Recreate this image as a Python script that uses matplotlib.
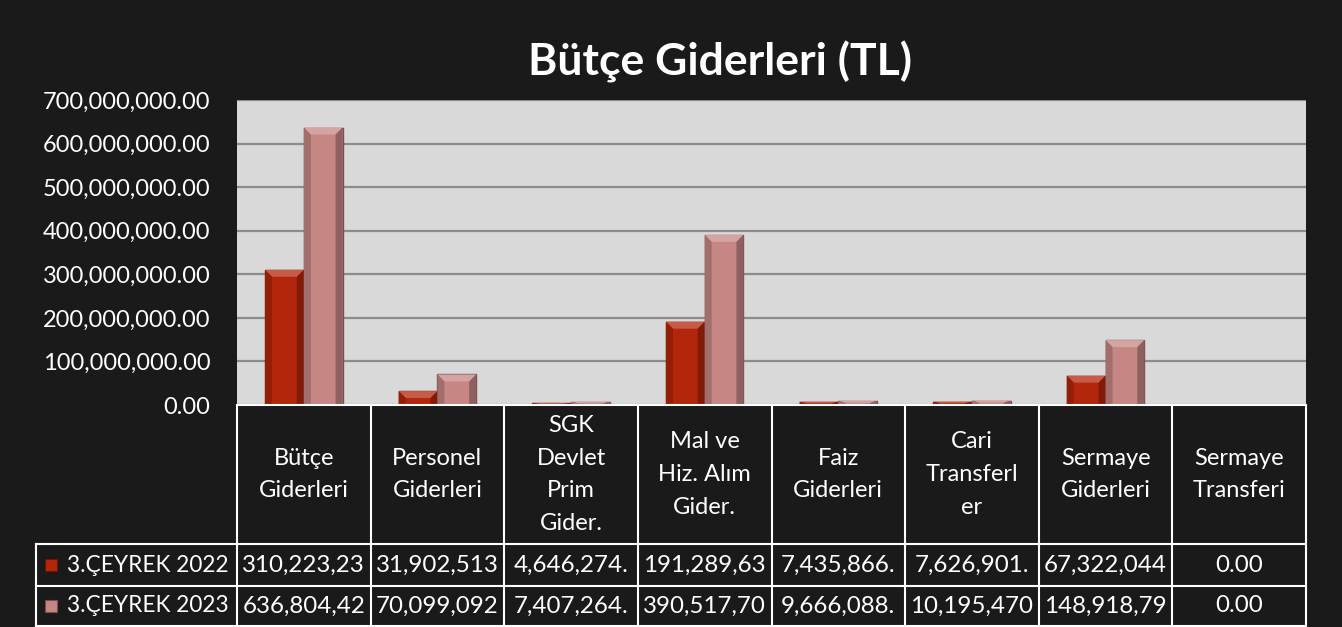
import numpy as np
import matplotlib
matplotlib.use("Agg")
import matplotlib.pyplot as plt
import matplotlib.transforms as mtransforms
from matplotlib.patches import Rectangle, Polygon
from matplotlib.colors import to_rgb
from matplotlib.ticker import FuncFormatter

plt.rcParams['font.family'] = ['Lato', 'DejaVu Sans']

# data
categories = ["Bütçe\nGiderleri", "Personel\nGiderleri", "SGK\nDevlet\nPrim\nGider.",
              "Mal ve\nHiz. Alım\nGider.", "Faiz\nGiderleri", "Cari\nTransferl\ner",
              "Sermaye\nGiderleri", "Sermaye\nTransferi"]
series_names = ["3.ÇEYREK 2022", "3.ÇEYREK 2023"]
q3_2022 = [310223230, 31902513, 4646274, 191289630, 7435866, 7626901, 67322044, 0]
q3_2023 = [636804420, 70099092, 7407264, 390517700, 9666088, 10195470, 148918790, 0]
y_ticks = [0, 100e6, 200e6, 300e6, 400e6, 500e6, 600e6, 700e6]

bg = "#1a1a1a"
c_red = "#b3260b"
c_pink = "#c58684"
W, H = 1342, 627

fig = plt.figure(figsize=(W / 100, H / 100), dpi=100, facecolor=bg)
ax = fig.add_axes([237 / W, 1 - 405 / H, (1306 - 237) / W, (405 - 100) / H])
ax.set_facecolor("#d9d9d9")

x = np.arange(len(categories))
bw = 0.29
px = (1306 - 237) / len(categories)       # pixels per category
ph = 405 - 100                              # plot height in pixels
ymax = 700e6


def shade(col, f):
    c = np.array(to_rgb(col))
    return tuple(np.clip(c * f, 0, 1)) if f < 1 else tuple(c + (1 - c) * (f - 1))


def beveled(xs, vals, col):
    bars = ax.bar(xs, vals, bw, color=col, edgecolor=shade(col, 0.6), linewidth=1, zorder=3)
    bev_x = 7 / px
    bev_y = 7 / ph * ymax
    for b, v in zip(bars, vals):
        if v <= 0:
            continue
        x0, x1 = b.get_x(), b.get_x() + b.get_width()
        by = min(bev_y, v / 2)
        bx = min(bev_x, (x1 - x0) / 2)
        # top bevel lighter, left darker, right darker
        ax.add_patch(Polygon([(x0, v), (x1, v), (x1 - bx, v - by), (x0 + bx, v - by)],
                             closed=True, facecolor=shade(col, 1.25), lw=0, zorder=4))
        ax.add_patch(Polygon([(x0, 0), (x0, v), (x0 + bx, v - by), (x0 + bx, 0)],
                             closed=True, facecolor=shade(col, 0.82), lw=0, zorder=4))
        ax.add_patch(Polygon([(x1, 0), (x1, v), (x1 - bx, v - by), (x1 - bx, 0)],
                             closed=True, facecolor=shade(col, 0.72), lw=0, zorder=4))


beveled(x - bw / 2, q3_2022, c_red)
beveled(x + bw / 2, q3_2023, c_pink)

ax.set_xlim(-0.5, len(categories) - 0.5)
ax.set_ylim(0, ymax)
ax.set_yticks(y_ticks)
ax.yaxis.set_major_formatter(FuncFormatter(lambda v, p: f"{v:,.2f}"))
ax.tick_params(axis='y', colors='white', labelsize=17, length=0, pad=19)
ax.set_xticks([])
ax.grid(axis='y', color="#8c8c8c", linewidth=1.6, zorder=1)
for s in ax.spines.values():
    s.set_visible(False)

fig.text(0.5365, 1 - 62 / H, "Bütçe Giderleri (TL)", color="white", fontsize=32,
         fontweight="bold", ha="center", va="center")

# data table under the axes
trans = mtransforms.blended_transform_factory(ax.transData, ax.transAxes)
y_hdr = -(544 - 405) / ph
y_r1 = -(586 - 405) / ph
y_r2 = -(626 - 405) / ph
x_left = -0.5 - (237 - 36) / px
lk = dict(color="white", lw=1.5, transform=trans, clip_on=False, zorder=5)

ax.plot([-0.5, len(categories) - 0.5], [0, 0], **lk)
for yy in (y_hdr, y_r1, y_r2):
    ax.plot([x_left, len(categories) - 0.5], [yy, yy], **lk)
for i in range(len(categories) + 1):
    ax.plot([i - 0.5, i - 0.5], [0, y_r2], **lk)
ax.plot([x_left, x_left], [y_hdr, y_r2], **lk)

for i, cat in enumerate(categories):
    ax.text(i, y_hdr / 2, cat, color="white", fontsize=17, ha="center", va="center",
            linespacing=1.7, transform=trans)

rows = [q3_2022, q3_2023]
colors = [c_red, c_pink]
for r, (vals, name) in enumerate(zip(rows, series_names)):
    top = y_hdr if r == 0 else y_r1
    bot = y_r1 if r == 0 else y_r2
    yc = (top + bot) / 2
    for i, v in enumerate(vals):
        ax.text(i, yc, f"{v:,.2f}"[:10], color="white", fontsize=17.4,
                ha="center", va="center", transform=trans)
    ax.add_patch(Rectangle((x_left + 9 / px, yc - 6 / ph), 12 / px, 12 / ph,
                           facecolor=colors[r], edgecolor=shade(colors[r], 0.6), lw=0.8,
                           transform=trans, clip_on=False))
    ax.text(x_left + 31 / px, yc, name, color="white", fontsize=16.3,
            ha="left", va="center", transform=trans)

fig.savefig("out.png", dpi=100, facecolor=bg)
